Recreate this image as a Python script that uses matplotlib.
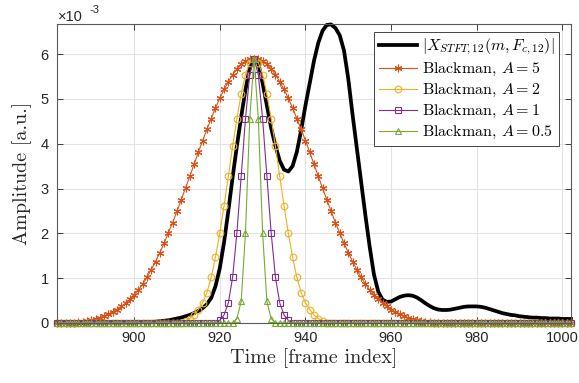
import numpy as np
import matplotlib
matplotlib.use('Agg')
import matplotlib.pyplot as plt

plt.rcParams['mathtext.fontset'] = 'cm'
plt.rcParams['font.family'] = ['Liberation Sans', 'DejaVu Sans']

# ---------------- data (amplitudes in units of 1e-3) ----------------
frames = np.arange(882, 1003)

stft_mag = [
    0.00, 0.00, 0.00, 0.00, 0.00, 0.00, 0.00, 0.00,            # 882-889
    0.01, 0.01, 0.01, 0.01, 0.01, 0.01, 0.01, 0.01, 0.01, 0.01,  # 890-899
    0.01, 0.015, 0.02, 0.02, 0.025,                              # 900-904
    0.03, 0.04, 0.05, 0.06, 0.08, 0.10, 0.12, 0.15, 0.18, 0.22,  # 905-914
    0.27, 0.33, 0.42, 0.56, 0.82, 1.22, 1.80, 2.50, 3.25, 3.95,  # 915-924
    4.60, 5.20, 5.70, 5.92, 5.80, 5.35, 4.85, 4.35, 3.95, 3.62,  # 925-934
    3.42, 3.38, 3.50, 3.82, 4.30, 4.85, 5.35, 5.85, 6.25, 6.52,  # 935-944
    6.65, 6.66, 6.58, 6.42, 6.08, 5.45, 4.65, 3.90, 3.15, 2.40,  # 945-954
    1.70, 1.08, 0.70, 0.52, 0.47, 0.48, 0.53, 0.58, 0.61, 0.62,  # 955-964
    0.61, 0.57, 0.51, 0.44, 0.38, 0.33, 0.30, 0.29, 0.29, 0.30,  # 965-974
    0.32, 0.34, 0.36, 0.37, 0.37, 0.37, 0.36, 0.34, 0.31, 0.28,  # 975-984
    0.25, 0.22, 0.20, 0.18, 0.17, 0.15, 0.14, 0.13, 0.12, 0.12,  # 985-994
    0.11, 0.11, 0.10, 0.10, 0.10, 0.09, 0.09, 0.09,              # 995-1002
]

# Blackman windows: non-zero segment and its first frame (zero elsewhere)
bm_A5_start = 887
bm_A5 = [0.02, 0.03, 0.05, 0.07, 0.09, 0.12, 0.16, 0.20, 0.25, 0.30,
         0.37, 0.44, 0.53, 0.63, 0.74, 0.87, 1.02, 1.19, 1.37, 1.57,
         1.78, 2.01, 2.24, 2.49, 2.75, 3.01, 3.27, 3.54, 3.81, 4.07,
         4.32, 4.56, 4.80, 5.01, 5.21, 5.38, 5.54, 5.67, 5.77, 5.84,
         5.89, 5.90, 5.89, 5.84, 5.77, 5.67, 5.54, 5.38, 5.21, 5.01,
         4.80, 4.56, 4.32, 4.07, 3.81, 3.54, 3.27, 3.01, 2.75, 2.49,
         2.24, 2.01, 1.78, 1.57, 1.37, 1.19, 1.02, 0.87, 0.74, 0.63,
         0.53, 0.44, 0.37, 0.30, 0.25, 0.20, 0.16, 0.12, 0.09, 0.07,
         0.05, 0.03, 0.02]

bm_A2_start = 912
bm_A2 = [0.04, 0.10, 0.18, 0.30, 0.45, 0.68, 1.02, 1.47, 2.01, 2.62,
         3.27, 3.94, 4.56, 5.11, 5.54, 5.81, 5.90, 5.81, 5.54, 5.11,
         4.56, 3.94, 3.27, 2.62, 2.01, 1.47, 1.02, 0.68, 0.45, 0.30,
         0.18, 0.10, 0.04]

bm_A1_start = 920
bm_A1 = [0.06, 0.18, 0.45, 1.02, 2.01, 3.27, 4.56, 5.54, 5.90, 5.54,
         4.56, 3.27, 2.01, 1.02, 0.45, 0.18, 0.06]

bm_A05_start = 924
bm_A05 = [0.10, 0.48, 2.01, 4.56, 5.90, 4.56, 2.01, 0.48, 0.10]

labels = [r'$|X_{STFT,12}(m,F_{c,12})|$',
          r'Blackman, $A=5$',
          r'Blackman, $A=2$',
          r'Blackman, $A=1$',
          r'Blackman, $A=0.5$']

x_ticks = [900, 920, 940, 960, 980, 1000]
y_ticks = [0, 1, 2, 3, 4, 5, 6]


def full_series(seg, start):
    y = np.zeros(len(frames))
    i0 = start - frames[0]
    y[i0:i0 + len(seg)] = seg
    return y


# ---------------- figure ----------------
fig = plt.figure(figsize=(5.79, 3.83), dpi=100)
ax = fig.add_axes([57/579, 1 - 323/383, (571-57)/579, (323-24)/383])

ax.grid(True, color='#e3e3e3', linewidth=0.8, zorder=0)
ax.set_axisbelow(True)

ax.plot(frames, stft_mag, color='black', linewidth=2.7, label=labels[0],
        clip_on=False, zorder=3)

styles = [
    (bm_A5, bm_A5_start, '#D95319', (6, 2, 0), 5.5, 'full'),
    (bm_A2, bm_A2_start, '#EDB120', 'o', 4.8, 'none'),
    (bm_A1, bm_A1_start, '#7E2F8E', 's', 4.0, 'none'),
    (bm_A05, bm_A05_start, '#77AC30', '^', 4.8, 'none'),
]
for (seg, st, col, mk, ms, fill), lab in zip(styles, labels[1:]):
    ax.plot(frames, full_series(seg, st), color=col, linewidth=0.8,
            marker=mk, markersize=ms, markerfacecolor='none' if fill == 'none' else col,
            markeredgecolor=col, markeredgewidth=0.8, label=lab,
            clip_on=False, zorder=4)

ax.set_xlim(882, 1002)
ax.set_ylim(0, 6.67)
ax.set_xticks(x_ticks)
ax.set_yticks(y_ticks)
ax.tick_params(direction='in', length=4, width=0.6, top=True, right=True,
               labelsize=10.5, colors='#262626', pad=6)
for s in ax.spines.values():
    s.set_color('#5a5a5a')
    s.set_linewidth(0.8)
    s.set_zorder(5)

ax.set_xlabel('Time [frame index]', fontsize=14.5, color='#262626', labelpad=2,
              family='cmr10')
ax.set_ylabel('Amplitude [a.u.]', fontsize=14.5, color='#262626', labelpad=6,
              family='cmr10')

fig.text(58/579, 1 - 21/383, '×10', fontsize=10.5, color='#262626', ha='left', va='baseline')
fig.text(89/579, 1 - 13/383, '-3', fontsize=8, color='#262626', ha='left', va='baseline')

leg = ax.legend(loc='upper right', bbox_to_anchor=((559-57)/514, 1 - (32-24)/299),
                borderaxespad=0, fontsize=11.5, frameon=True, fancybox=False,
                edgecolor='#262626', framealpha=1, handlelength=2.4,
                handletextpad=0.3, labelspacing=0.25, borderpad=0.3,
                prop={'family': 'cmr10', 'size': 11.5})
leg.get_frame().set_linewidth(0.6)
leg.set_zorder(10)

fig.savefig('out.png', dpi=100)
